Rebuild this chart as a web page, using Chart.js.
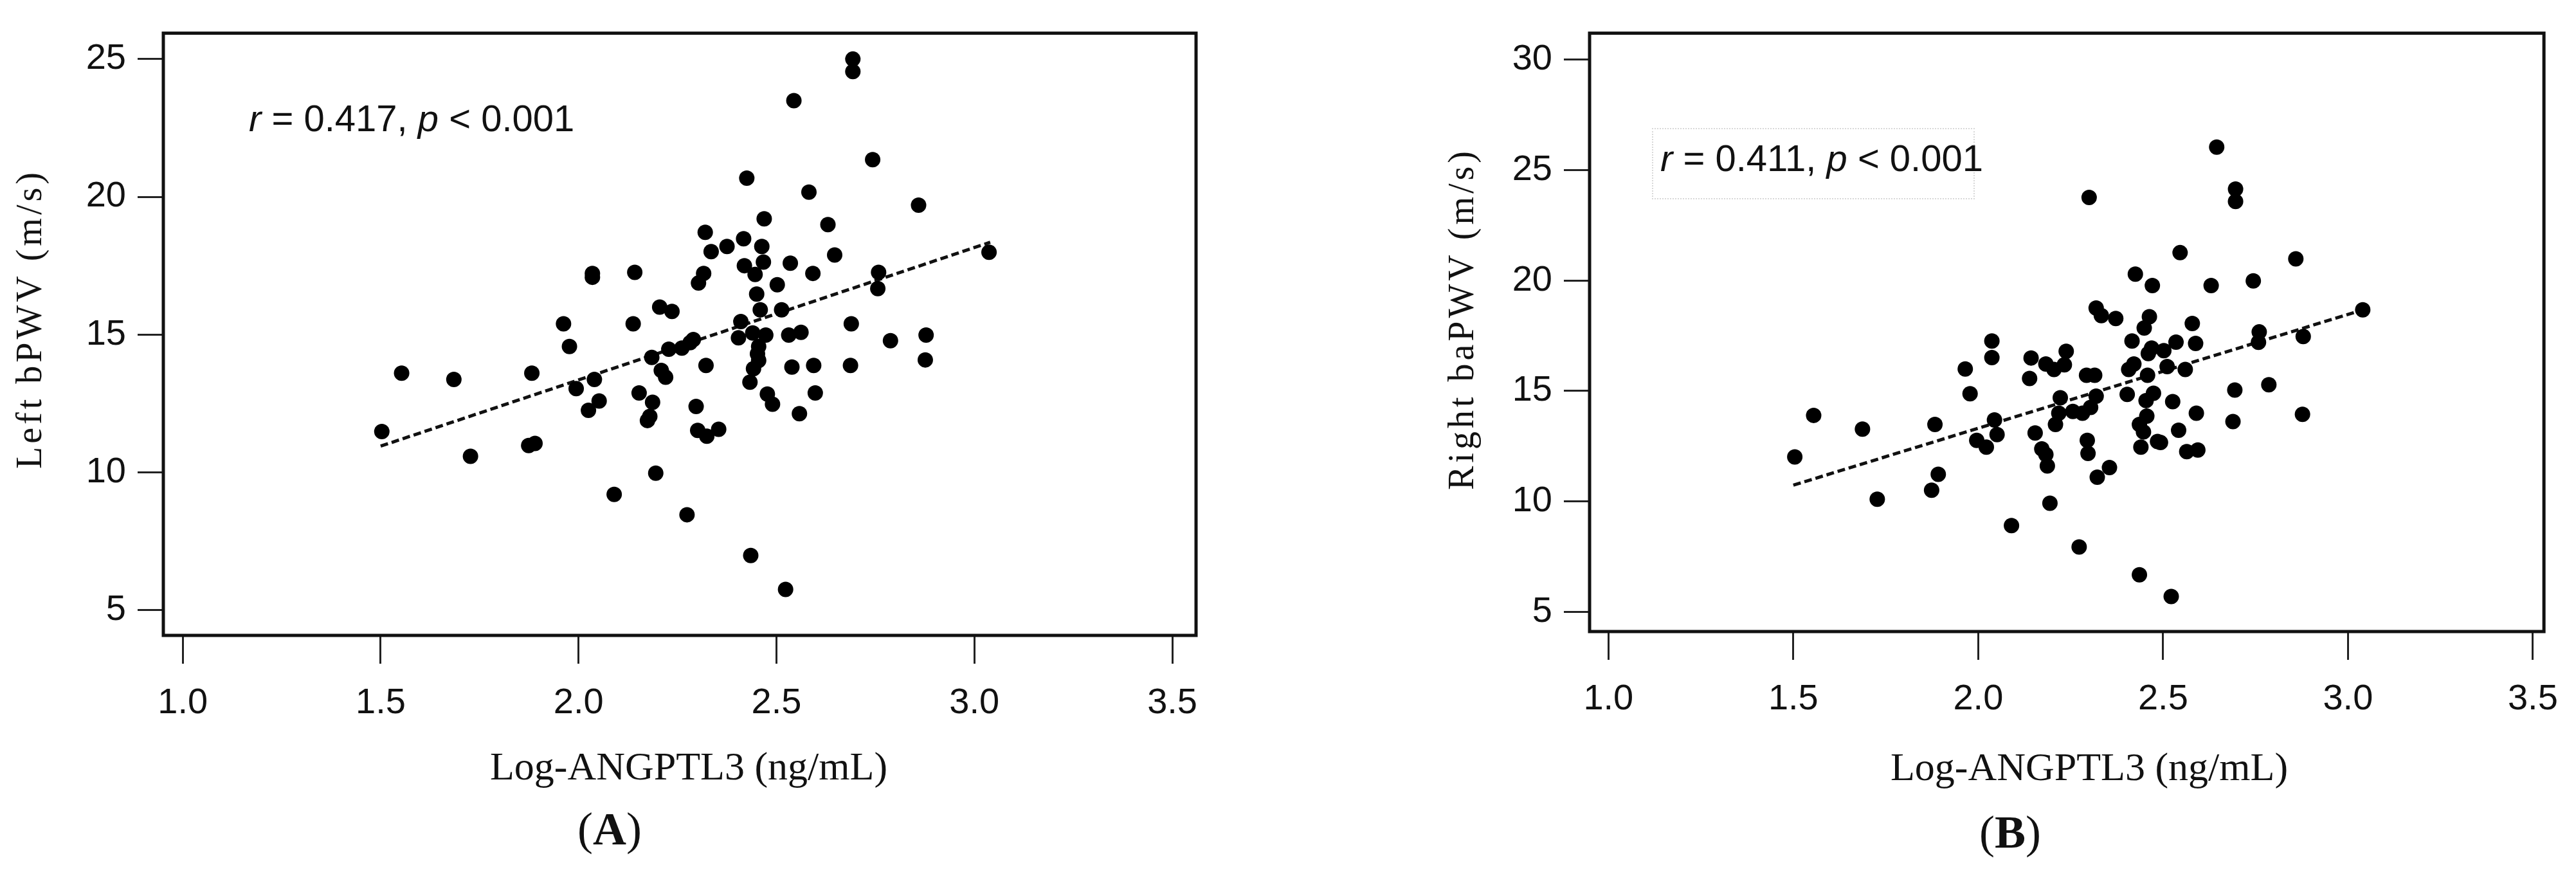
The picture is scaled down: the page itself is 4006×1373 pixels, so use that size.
<!DOCTYPE html>
<html><head><meta charset="utf-8">
<script src="https://cdn.jsdelivr.net/npm/chart.js@4"></script>
<style>
body{margin:0;background:#fff;width:4006px;height:1373px;position:relative;overflow:hidden}
canvas{position:absolute;top:0}
.t{position:absolute;white-space:nowrap;color:#111}
.ser{font-family:"Liberation Serif",serif}
.nar{font-family:"Liberation Sans Narrow","Liberation Sans",sans-serif}
.ytitle{transform:translate(-50%,-50%) rotate(-90deg);font-size:56px;letter-spacing:5px}
.xtitle{transform:translate(-50%,-50%);font-size:62px}
.lab{transform:translate(-50%,-50%);font-size:72px}
</style></head><body>
<canvas id="cA"></canvas>
<canvas id="cB"></canvas>
<div class="t ser ytitle" style="left:45px;top:496px">Left bPWV (m/s)</div>
<div class="t ser ytitle" style="left:2272px;top:496px">Right baPWV (m/s)</div>
<div class="t ser xtitle" style="left:1071px;top:1191px">Log-ANGPTL3 (ng/mL)</div>
<div class="t ser xtitle" style="left:3249px;top:1192px">Log-ANGPTL3 (ng/mL)</div>
<div class="t ser lab" style="left:948px;top:1289px">(<b>A</b>)</div>
<div class="t ser lab" style="left:3126px;top:1294px">(<b>B</b>)</div>
<div class="t nar" style="left:387px;top:150px;font-size:58px"><i>r</i> = 0.417, <i>p</i> &lt; 0.001</div>
<div style="position:absolute;left:2569px;top:199px;width:498px;height:107px;border:2px dotted #d8d8d8"></div>
<div class="t nar" style="left:2582px;top:212px;font-size:58px"><i>r</i> = 0.411, <i>p</i> &lt; 0.001</div>
<script>
// Panel A: Log-ANGPTL3 vs left bPWV
const aX = [1.503,1.553,1.685,1.727,1.874,1.89,1.882,1.962,1.977,1.994,2.025,2.04,2.052,2.035,2.035,2.09,2.142,2.138,2.153,2.174,2.18,2.187,2.185,2.195,2.205,2.209,2.22,2.228,2.236,2.261,2.274,2.282,2.29,2.297,2.301,2.303,2.316,2.32,2.322,2.324,2.335,2.354,2.375,2.404,2.41,2.417,2.419,2.425,2.433,2.435,2.44,2.442,2.446,2.45,2.455,2.459,2.463,2.467,2.469,2.455,2.452,2.473,2.477,2.49,2.502,2.513,2.523,2.531,2.535,2.539,2.544,2.558,2.562,2.582,2.592,2.594,2.598,2.63,2.647,2.689,2.687,2.693,2.693,2.743,2.758,2.756,2.788,2.859,2.878,2.876,3.037];
const aY = [11.48,13.6,13.37,10.58,10.97,11.05,13.6,15.39,14.57,13.04,12.25,13.37,12.59,17.22,17.08,9.2,17.26,15.39,12.88,11.88,12.03,12.54,14.17,9.97,16.0,13.7,13.45,14.47,15.84,14.51,8.46,14.71,14.82,12.39,11.52,16.87,17.22,18.71,13.88,11.31,18.01,11.56,18.2,14.88,15.47,18.48,17.5,20.68,13.27,6.98,15.06,13.76,17.18,16.47,14.57,15.9,18.2,17.63,19.2,14.06,14.3,14.98,12.84,12.47,16.81,15.9,5.75,14.98,17.59,13.82,23.49,12.13,15.08,20.17,17.22,13.88,12.88,18.99,17.89,15.39,13.88,25.0,24.55,21.35,17.26,16.67,14.78,19.7,14.98,14.08,17.99];
const aFitX = [1.5, 3.04];
const aFitY = [10.95, 18.35];
const aYTicks = [5, 10, 15, 20, 25];

// Panel B: Log-ANGPTL3 vs right baPWV
const bX = [1.504,1.555,1.687,1.727,1.874,1.883,1.892,1.965,1.978,1.996,2.022,2.037,2.037,2.044,2.051,2.09,2.143,2.139,2.154,2.172,2.183,2.187,2.183,2.194,2.205,2.209,2.218,2.222,2.233,2.238,2.256,2.273,2.282,2.293,2.295,2.297,2.3,2.304,2.315,2.319,2.319,2.322,2.333,2.355,2.372,2.403,2.407,2.416,2.421,2.425,2.436,2.436,2.44,2.447,2.449,2.454,2.456,2.458,2.46,2.463,2.469,2.471,2.474,2.485,2.493,2.502,2.511,2.522,2.526,2.535,2.542,2.546,2.56,2.564,2.579,2.588,2.59,2.594,2.63,2.645,2.689,2.694,2.696,2.696,2.744,2.758,2.76,2.786,2.859,2.877,2.879,3.04];
const bY = [12.01,13.89,13.27,10.09,10.5,13.48,11.22,15.99,14.87,12.76,12.45,17.26,16.51,13.68,13.02,8.9,16.49,15.56,13.09,12.37,12.12,11.6,16.22,9.91,15.97,13.48,13.99,14.69,16.18,16.79,14.07,7.93,13.99,15.71,12.76,12.17,23.76,14.25,15.71,14.76,18.75,11.09,18.41,11.53,18.28,14.84,15.97,17.26,16.22,20.29,13.48,6.67,12.45,13.14,17.85,14.56,13.86,15.71,16.69,18.36,16.94,19.77,14.89,12.71,12.66,16.82,16.1,5.69,14.51,17.21,13.22,21.26,15.97,12.25,18.05,17.15,13.99,12.32,19.77,26.04,13.61,15.04,24.14,23.58,19.98,17.2,17.67,15.28,20.98,13.94,17.46,18.67];
const bFitX = [1.5, 3.04];
const bFitY = [10.73, 18.67];
const bYTicks = [5, 10, 15, 20, 25, 30];

const xTicks = [1.0, 1.5, 2.0, 2.5, 3.0, 3.5];

const boxPlugin = {
  id: 'box',
  afterDraw(c) {
    const a = c.chartArea, ctx = c.ctx;
    ctx.save();
    ctx.strokeStyle = '#111';
    ctx.lineWidth = 5;
    ctx.strokeRect(a.left, a.top, a.right - a.left, a.bottom - a.top);
    ctx.restore();
  }
};

function makeChart(id, left, w, xs, ys, fx, fy, yTicks, xr, yr, pad, yW, xH) {
  const cv = document.getElementById(id);
  cv.width = w; cv.height = 1373;
  cv.style.left = left + 'px';
  const tickFont = {family: '"Liberation Sans Narrow","Liberation Sans",sans-serif', size: 56};
  new Chart(cv, {
    type: 'scatter',
    data: {datasets: [
      {data: xs.map((x, i) => ({x, y: ys[i]})), pointRadius: 12, pointHoverRadius: 12,
       backgroundColor: '#000', borderWidth: 0},
      {type: 'line', data: fx.map((x, i) => ({x, y: fy[i]})), borderColor: '#111',
       borderWidth: 5, borderDash: [12, 6], pointRadius: 0, fill: false}
    ]},
    options: {
      responsive: false, animation: false, devicePixelRatio: 1,
      layout: {padding: pad},
      plugins: {legend: {display: false}, tooltip: {enabled: false}},
      scales: {
        x: {type: 'linear', min: xr[0], max: xr[1],
            afterBuildTicks: s => { s.ticks = xTicks.map(v => ({value: v})); },
            afterFit: s => { s.height = xH; },
            grid: {drawOnChartArea: false, tickLength: 44, lineWidth: 3, color: '#222'},
            border: {display: false},
            ticks: {font: tickFont, color: '#111', padding: 28, callback: v => v.toFixed(1)}},
        y: {type: 'linear', min: yr[0], max: yr[1],
            afterBuildTicks: s => { s.ticks = yTicks.map(v => ({value: v})); },
            afterFit: s => { s.width = yW; },
            grid: {drawOnChartArea: false, tickLength: 40, lineWidth: 3, color: '#222'},
            border: {display: false},
            ticks: {font: tickFont, color: '#111', padding: 18}}
      }
    },
    plugins: [boxPlugin]
  });
}

makeChart('cA', 0, 2000, aX, aY, aFitX, aFitY, aYTicks, [0.951, 3.56], [4.08, 25.94],
  {top: 37, right: 140, left: 0, bottom: 0}, 254, 385);
makeChart('cB', 2000, 2006, bX, bY, bFitX, bFitY, bYTicks, [0.949, 3.53], [4.1, 31.2],
  {top: 40, right: 17, left: 0, bottom: 0}, 472, 391);
</script>
</body></html>
